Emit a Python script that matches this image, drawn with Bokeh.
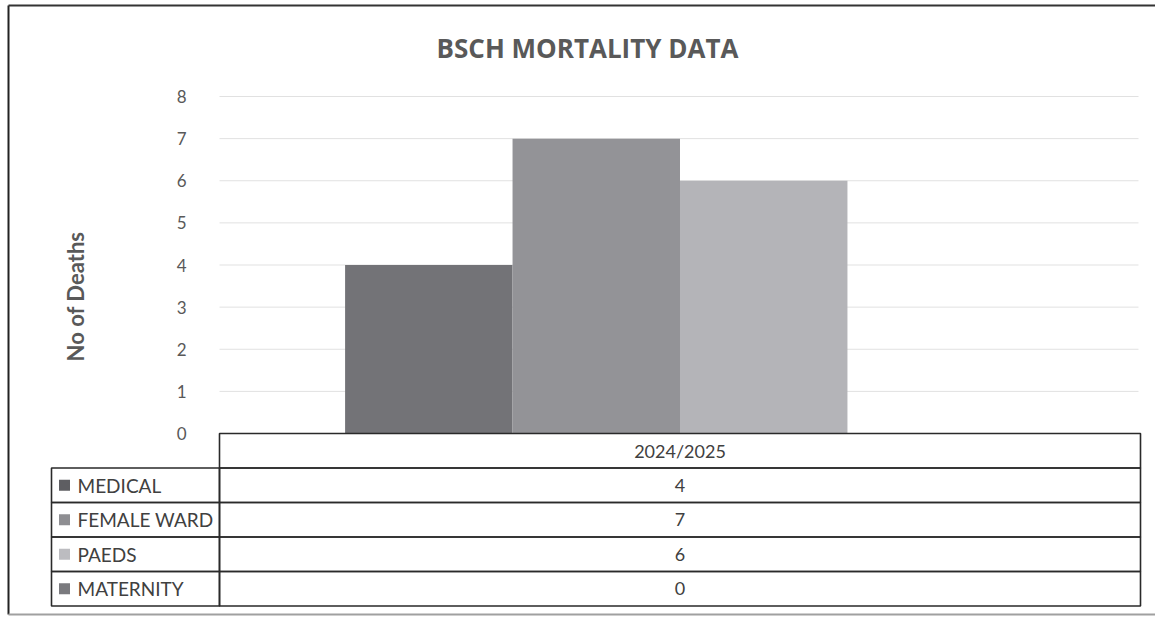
import math
from bokeh.plotting import figure
from bokeh.models import Range1d, ColumnDataSource
from bokeh.core.properties import value
from bokeh.embed import file_html
from bokeh.resources import INLINE

# ---------------- data ----------------
chart_title = "BSCH MORTALITY DATA"
y_axis_title = "No of Deaths"
period = "2024/2025"
series = ["MEDICAL", "FEMALE WARD", "PAEDS", "MATERNITY"]
deaths = [4, 7, 6, 0]
bar_colors = ["#737377", "#939397", "#b4b4b8", "#88888c"]
key_colors = ["#5e5e62", "#8e8e92", "#bcbcc0", "#7a7a7e"]
y_ticks = [0, 1, 2, 3, 4, 5, 6, 7, 8]

# ---------------- layout (pixels) ----------------
W, H = 1155, 617
PX_X0 = 219        # left edge of category column inside the canvas
PX_CAT = 921       # width of the category column
PX_Y0 = 433        # vertical pixel of value 0
PX_UNIT = 42.125   # pixels per death
PX_ROW = 34.5      # table row height
PX_LEG = 168       # legend column width
FONT = "Lato"

ux = 1.0 / PX_CAT
uy = 1.0 / PX_UNIT
row_h = PX_ROW * uy
leg_w = PX_LEG * ux

xl, xr = -PX_X0 * ux, (W - PX_X0) * ux
yb, yt = -(H - PX_Y0) * uy, PX_Y0 * uy

p = figure(width=W, height=H, output_backend="svg", toolbar_location=None,
           x_range=Range1d(xl, xr), y_range=Range1d(yb, yt),
           x_axis_location=None, y_axis_location=None,
           min_border=0, background_fill_color="white",
           border_fill_color="white")
p.grid.visible = False
p.outline_line_color = None

# gridlines
grid_src = ColumnDataSource(dict(y=[t for t in y_ticks if t > 0]))
p.segment(x0=0, x1=1 - 2 * ux, y0="y", y1="y", source=grid_src,
          line_color="#e1e1e1", line_width=1)

# bars (clustered, gap width 150%)
n = len(series)
bw = 1.0 / (n + 1.5)
bar_src = ColumnDataSource(dict(
    x=[0.5 + (i - (n - 1) / 2) * bw for i in range(n)],
    top=deaths, color=bar_colors, name=series))
p.vbar(x="x", top="top", bottom=0, width=bw, color="color", source=bar_src,
       line_color=None)

# y tick labels
tick_src = ColumnDataSource(dict(y=y_ticks, t=[str(t) for t in y_ticks]))
p.text(x=-33 * ux, y="y", text="t", source=tick_src,
       text_align="right", text_baseline="middle",
       text_font=value(FONT), text_font_size="17px", text_color="#595959")

# y axis title
p.text(x=[-144 * ux], y=[(PX_Y0 - 296) * uy], text=[y_axis_title],
       angle=math.pi / 2, text_align="center", text_baseline="middle",
       text_font=value(FONT), text_font_size="22px", text_font_style="bold",
       text_color="#595959")

# chart title
p.text(x=[(587 - PX_X0) * ux], y=[(PX_Y0 - 47) * uy], text=[chart_title],
       text_align="center", text_baseline="middle",
       text_font=value("Open Sans"), text_font_size="26px",
       text_font_style="bold", text_color="#595959")

# ---------------- data table ----------------
cell_l, cell_r, cell_t, cell_b = [0], [1], [0], [-row_h]
for i in range(n):
    top = -(i + 1) * row_h
    cell_l += [0, -leg_w]
    cell_r += [1, 0]
    cell_t += [top, top]
    cell_b += [top - row_h, top - row_h]
p.quad(left=cell_l, right=cell_r, top=cell_t, bottom=cell_b,
       fill_color=None, line_color="#2a2a2a", line_width=1.6)

p.text(x=[0.5], y=[-0.5 * row_h], text=[period], text_align="center",
       text_baseline="middle", text_font=value(FONT), text_font_size="18px",
       text_color="#404040")

tab_src = ColumnDataSource(dict(
    y=[-(i + 1.5) * row_h for i in range(n)],
    v=[str(d) for d in deaths], name=series, key=key_colors))
p.text(x=0.5, y="y", text="v", source=tab_src, text_align="center",
       text_baseline="middle", text_font=value(FONT), text_font_size="18px",
       text_color="#404040")
p.scatter(x=-leg_w + 13 * ux, y="y", source=tab_src, marker="square",
          size=11, fill_color="key", line_color=None)
p.text(x=-leg_w + 26 * ux, y="y", text="name", source=tab_src,
       text_align="left", text_baseline="middle", text_font=value(FONT),
       text_font_size="19px", text_color="#404040")

# outer frame lines
p.segment(x0=[-(PX_X0 - 8) * ux], x1=[-(PX_X0 - 8) * ux],
          y0=[(PX_Y0 - 614) * uy], y1=[(PX_Y0 - 5) * uy],
          line_color="#222222", line_width=2)
p.segment(x0=[-(PX_X0 - 8) * ux], x1=[xr], y0=[(PX_Y0 - 5) * uy],
          y1=[(PX_Y0 - 5) * uy], line_color="#333333", line_width=2)
p.segment(x0=[-(PX_X0 - 8) * ux], x1=[xr], y0=[(PX_Y0 - 614) * uy],
          y1=[(PX_Y0 - 614) * uy], line_color="#a0a0a0", line_width=2)

open("out.html", "w").write(file_html(p, INLINE))
